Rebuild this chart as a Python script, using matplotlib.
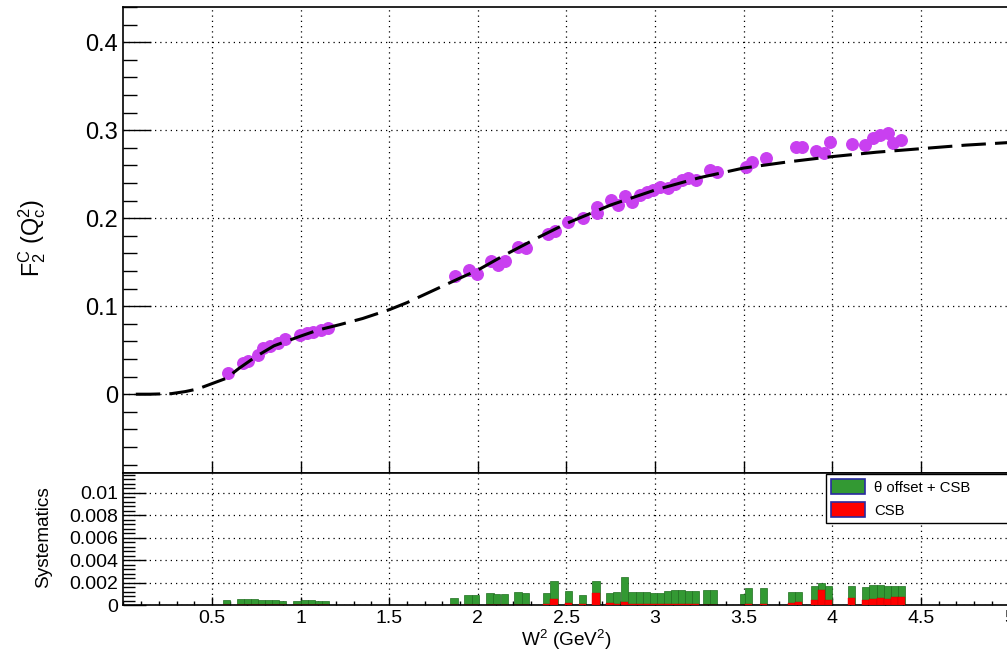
import matplotlib
matplotlib.use('Agg')
from matplotlib import pyplot as plt
from matplotlib.patches import Patch
from matplotlib.ticker import MultipleLocator, FuncFormatter

plt.rcParams['font.family'] = ['Liberation Sans', 'DejaVu Sans']
plt.rcParams['mathtext.fontset'] = 'custom'
plt.rcParams['mathtext.rm'] = 'Liberation Sans'
plt.rcParams['mathtext.it'] = 'Liberation Sans:italic'

# F2 data points (W^2, F2)
w2_data = [0.592, 0.677, 0.705, 0.758, 0.790, 0.827, 0.874, 0.912, 0.997, 1.034,
           1.072, 1.116, 1.153, 1.871, 1.952, 1.997, 2.073, 2.116, 2.153, 2.228,
           2.272, 2.394, 2.436, 2.511, 2.595, 2.671, 2.671, 2.750, 2.793, 2.831,
           2.869, 2.915, 2.953, 2.990, 3.028, 3.075, 3.112, 3.150, 3.187, 3.231,
           3.310, 3.350, 3.513, 3.550, 3.629, 3.794, 3.831, 3.910, 3.951, 3.989,
           4.110, 4.186, 4.228, 4.270, 4.313, 4.345, 4.389]
f2_data = [0.0239, 0.0352, 0.0382, 0.0447, 0.0520, 0.0550, 0.0587, 0.0625, 0.0674, 0.0693,
           0.0711, 0.0730, 0.0750, 0.1348, 0.1413, 0.1367, 0.1515, 0.1470, 0.1515, 0.1670,
           0.1660, 0.1818, 0.1856, 0.1955, 0.2000, 0.2130, 0.2057, 0.2208, 0.2150, 0.2257,
           0.2189, 0.2265, 0.2303, 0.2322, 0.2360, 0.2348, 0.2386, 0.2435, 0.2455, 0.2435,
           0.2549, 0.2530, 0.2587, 0.2636, 0.2680, 0.2807, 0.2807, 0.2765, 0.2746, 0.2870,
           0.2844, 0.2833, 0.2909, 0.2947, 0.2973, 0.2860, 0.2890]

# model curve
w2_model = [0.07, 0.15, 0.27, 0.35, 0.42, 0.50, 0.58, 0.65, 0.75, 0.85, 1.00, 1.10,
            1.22, 1.35, 1.50, 1.60, 1.75, 1.90, 2.00, 2.15, 2.35, 2.50, 2.75, 3.00,
            3.25, 3.50, 3.75, 4.00, 4.25, 4.50, 4.75, 5.00, 5.25]
f2_model = [0.0, 0.0, 0.0006, 0.003, 0.006, 0.012, 0.018, 0.029, 0.043, 0.055, 0.066, 0.073,
            0.079, 0.086, 0.096, 0.104, 0.118, 0.132, 0.141, 0.158, 0.179, 0.194, 0.215, 0.232,
            0.246, 0.257, 0.264, 0.270, 0.275, 0.279, 0.283, 0.286, 0.288]

# systematics per bin
w2_sys = [0.584, 0.66, 0.70, 0.74, 0.78, 0.82, 0.86, 0.90, 0.98, 1.02, 1.06, 1.10, 1.14,
          1.866, 1.945, 1.987, 2.069, 2.108, 2.15, 2.227, 2.27, 2.39, 2.43, 2.51, 2.59,
          2.667, 2.746, 2.785, 2.83, 2.87, 2.91, 2.95, 2.99, 3.03, 3.07, 3.11, 3.15, 3.19,
          3.23, 3.29, 3.33, 3.50, 3.53, 3.61, 3.77, 3.81, 3.90, 3.94, 3.98, 4.11, 4.19,
          4.23, 4.27, 4.31, 4.35, 4.39]
sys_total = [0.00045, 0.00054, 0.00054, 0.00054, 0.00045, 0.00042, 0.00042, 0.00033,
             0.00039, 0.00042, 0.00042, 0.00036, 0.00036,
             0.0006, 0.00087, 0.0009, 0.00104, 0.00099, 0.00098, 0.00113, 0.00104, 0.0011,
             0.00218, 0.00128, 0.0009, 0.00218, 0.00104, 0.00113, 0.0025, 0.00116, 0.00116,
             0.00113, 0.00107, 0.00107, 0.00122, 0.00134, 0.00134, 0.00128, 0.00128, 0.00134,
             0.00134, 0.00099, 0.00149, 0.00155, 0.00119, 0.00119, 0.0017, 0.002, 0.00173,
             0.0017, 0.00164, 0.00176, 0.00176, 0.0017, 0.0017, 0.0017]
sys_csb = [0.0, 0.0, 0.0, 0.0, 0.0, 0.0, 0.0, 0.0,
           0.0, 0.0, 0.0, 0.00003, 0.00003,
           0.00002, 0.00002, 0.00002, 0.00004, 0.00004, 0.00004, 0.00003, 0.00003, 0.00005,
           0.00054, 0.00015, 0.00005, 0.00103, 0.00018, 0.00005, 0.00028, 0.00005, 0.00005,
           0.00005, 0.00005, 0.00005, 0.00005, 0.00008, 0.00008, 0.00005, 0.00005, 0.00004,
           0.00004, 0.00003, 0.00008, 0.00005, 0.0002, 0.0003, 0.00045, 0.00134, 0.00045,
           0.0006, 0.00045, 0.00056, 0.00066, 0.0005, 0.00069, 0.00072]

GREEN = '#339933'
VIOLET = '#c940f0'
GRID_STYLE = dict(color='black', linestyle=(0, (1, 3.2)), linewidth=0.9)


def fmt(v, pos):
    return '%g' % round(v, 6)


fig = plt.figure(figsize=(10.07, 6.55), dpi=100)
# axes run past the right edge of the picture, like the cropped original
ax1 = fig.add_axes([0.1225, 0.2786, 0.9239, 0.7107])
ax2 = fig.add_axes([0.1225, 0.0763, 0.9239, 0.2023])

# top panel
ax1.plot(w2_data, f2_data, 'o', color=VIOLET, markersize=8.3, zorder=3)
ax1.plot(w2_model, f2_model, color='black', linewidth=2.2, dashes=(8, 3), zorder=4)
ax1.set_xlim(0, 5.25)
ax1.set_ylim(-0.089, 0.44)
ax1.set_yticks([0, 0.1, 0.2, 0.3, 0.4])
ax1.set_xticks([0.5, 1, 1.5, 2, 2.5, 3, 3.5, 4, 4.5, 5])
ax1.yaxis.set_minor_locator(MultipleLocator(0.02))
ax1.yaxis.set_major_formatter(FuncFormatter(fmt))
ax1.tick_params(axis='y', which='major', direction='in', length=20, width=1.0,
                labelsize=17, pad=4)
ax1.tick_params(axis='y', which='minor', direction='in', length=10, width=1.0)
ax1.tick_params(axis='x', which='major', direction='in', length=9, width=1.0,
                labelbottom=False)
ax1.grid(True, which='major', **GRID_STYLE)
ax1.set_axisbelow(True)

# bottom panel
ax2.bar(w2_sys, sys_total, width=0.04, color=GREEN, edgecolor='#1f6e1f',
        linewidth=0.5, zorder=2)
ax2.bar(w2_sys, sys_csb, width=0.04, color='red', edgecolor='#cc0000',
        linewidth=0.3, zorder=3)
ax2.set_xlim(0, 5.25)
ax2.set_ylim(0, 0.0118)
ax2.set_yticks([0, 0.002, 0.004, 0.006, 0.008, 0.01])
ax2.set_xticks([0.5, 1, 1.5, 2, 2.5, 3, 3.5, 4, 4.5, 5])
ax2.xaxis.set_minor_locator(MultipleLocator(0.1))
ax2.yaxis.set_minor_locator(MultipleLocator(0.0004))
ax2.xaxis.set_major_formatter(FuncFormatter(fmt))
ax2.yaxis.set_major_formatter(FuncFormatter(fmt))
ax2.tick_params(axis='y', which='major', direction='in', length=16.5, width=1.0,
                labelsize=14, pad=4)
ax2.tick_params(axis='y', which='minor', direction='in', length=8.5, width=1.0)
ax2.tick_params(axis='x', which='major', direction='in', length=6, width=1.0,
                labelsize=14, pad=3.5)
ax2.tick_params(axis='x', which='minor', direction='in', length=3, width=1.0)
ax2.grid(True, which='major', **GRID_STYLE)
ax2.set_axisbelow(True)

for ax in (ax1, ax2):
    for sp in ax.spines.values():
        sp.set_linewidth(1.2)

handles = [Patch(facecolor=GREEN, edgecolor='#2a2aa0', linewidth=1.2, label='θ offset + CSB'),
           Patch(facecolor='red', edgecolor='#2a2aa0', linewidth=1.2, label='CSB')]
leg = ax2.legend(handles=handles, loc='upper left', bbox_to_anchor=(0.755, 0.62, 0.4, 0.37),
                 mode='expand', fontsize=10.7, fancybox=False, framealpha=1,
                 edgecolor='black', handlelength=2.3, handleheight=1.2,
                 borderpad=0.35, labelspacing=0.5, handletextpad=0.6, borderaxespad=0)
leg.get_frame().set_linewidth(1.0)

fig.text(32 / 1007, 1 - 238 / 655, r'$\mathrm{F_{2}^{C}\ (Q_{c}^{2})}$', rotation=90,
         ha='center', va='center', fontsize=16.8)
fig.text(44 / 1007, 1 - 537 / 655, 'Systematics', rotation=90,
         ha='center', va='center', fontsize=13.7)
fig.text(566 / 1007, 1 - 640 / 655, r'$\mathrm{W^{2}\ (GeV^{2})}$',
         ha='center', va='center', fontsize=13.7)

fig.savefig('out.png', dpi=100)
